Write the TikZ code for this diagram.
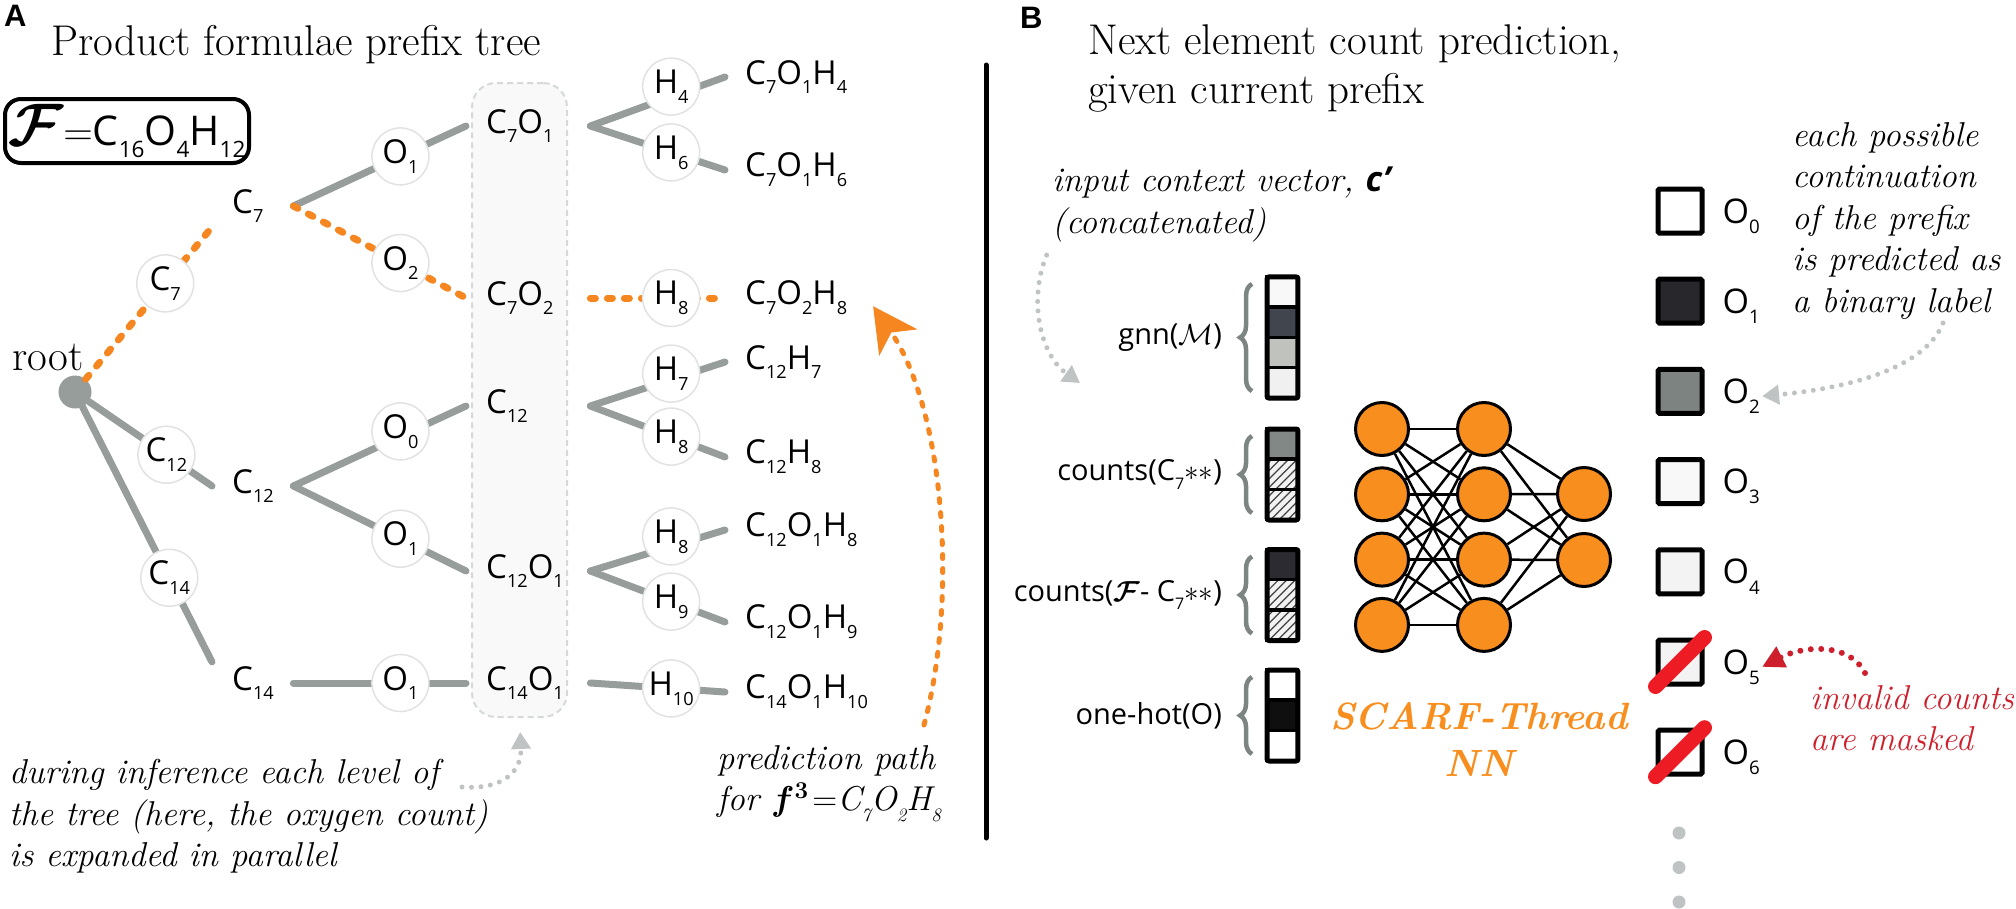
\RequirePackage{fix-cm}
\documentclass[tikz,border=0pt]{standalone}
\usepackage{bm}
\usepackage{fontspec}
\setsansfont{Open Sans}
\newfontfamily\panelfont{Liberation Sans}
\usetikzlibrary{positioning,arrows.meta,decorations.pathreplacing,patterns.meta,calc}

\definecolor{treegray}{RGB}{150,157,154}
\definecolor{pathorange}{RGB}{245,134,32}
\definecolor{ringgray}{RGB}{226,226,226}
\definecolor{boxgray}{RGB}{214,217,219}
\definecolor{boxfill}{RGB}{249,249,249}
\definecolor{hintgray}{RGB}{192,195,195}
\definecolor{bracegray}{RGB}{125,133,131}
\definecolor{nnorange}{RGB}{247,142,30}
\definecolor{maskred}{RGB}{237,28,36}
\definecolor{notered}{RGB}{205,32,44}
% vector cells
\definecolor{cellA}{RGB}{248,248,248}
\definecolor{cellB}{RGB}{65,70,78}
\definecolor{cellC}{RGB}{192,194,190}
\definecolor{cellD}{RGB}{240,240,240}
\definecolor{cellE}{RGB}{130,136,133}
\definecolor{cellF}{RGB}{45,43,50}
\definecolor{cellK}{RGB}{15,15,15}
% output squares
\definecolor{sqA}{RGB}{255,255,255}
\definecolor{sqB}{RGB}{40,40,44}
\definecolor{sqC}{RGB}{125,131,129}
\definecolor{sqD}{RGB}{248,248,248}
\definecolor{sqE}{RGB}{243,243,243}
\definecolor{sqF}{RGB}{243,243,243}
\definecolor{sqG}{RGB}{255,255,255}

\newcommand{\sbs}[1]{\raisebox{-0.3em}{\scalebox{0.55}{#1}}}

\tikzset{
  panel/.style={font=\panelfont\bfseries\fontsize{31}{31}\selectfont, inner sep=0pt},
  heading/.style={font=\rmfamily\fontsize{43}{49}\selectfont, inner sep=0pt},
  note/.style={font=\rmfamily\itshape\fontsize{34.5}{41.5}\selectfont, align=left, inner sep=0pt},
  formula/.style={font=\sffamily\fontsize{33}{38}\selectfont, inner xsep=20pt, inner ysep=4pt},
  lvlone/.style={formula, text width=41pt, align=left, anchor=west},
  lvltwo/.style={formula, text width=84pt, align=left, anchor=west},
  leaf/.style={formula, anchor=west},
  ring/.style={circle, solid, draw=ringgray, line width=1.5pt, fill=white,
               minimum size=57pt, inner sep=0pt, font=\sffamily\fontsize{33}{38}\selectfont},
  rootdot/.style={circle, fill=treegray, minimum size=33pt, inner sep=0pt},
  branch/.style={draw=treegray, line width=7pt, line cap=round},
  chosen/.style={draw=pathorange, line width=7pt, line cap=round, dash pattern=on 5pt off 12pt},
  levelbox/.style={draw=boxgray, fill=boxfill, line width=2pt, dash pattern=on 6pt off 4pt,
                   rounded corners=24pt, minimum width=95pt, minimum height=634pt},
  fambox/.style={draw, line width=4pt, rounded corners=16pt, minimum width=244pt,
                 minimum height=64pt, inner xsep=2pt, font=\sffamily\fontsize{41}{48}\selectfont},
  hint/.style={draw=hintgray, line width=5pt, line cap=round, dash pattern=on 0pt off 9.5pt,
               -{Triangle[width=19pt,length=17pt]}},
  pathhint/.style={draw=pathorange, line width=5pt, line cap=round, dash pattern=on 4pt off 10pt,
                   -{Stealth[length=44pt,width=46pt,inset=12pt]}},
  maskhint/.style={draw=notered, line width=6pt, line cap=round, dash pattern=on 0pt off 10.5pt,
                   -{Triangle[width=22pt,length=22pt]}},
  vecframe/.style={rectangle, minimum width=30.5pt, inner sep=0pt},
  vcell/.style={draw=black, line width=3.5pt},
  vecoutline/.style={draw=black, line width=5pt, rounded corners=2pt},
  cA/.style={fill=cellA}, cB/.style={fill=cellB}, cC/.style={fill=cellC}, cD/.style={fill=cellD},
  cE/.style={fill=cellE}, cF/.style={fill=cellF}, cK/.style={fill=cellK}, cW/.style={fill=white},
  hatch/.style={preaction={fill=black!5}, pattern={Lines[angle=45,distance=6pt,line width=1.2pt]},
                pattern color=black!75},
  vbrace/.style={draw=bracegray, line width=4.5pt, decorate, decoration={brace, amplitude=12pt}},
  veclabel/.style={font=\sffamily\fontsize{29}{34}\selectfont, inner sep=0pt},
  neuron/.style={circle, draw=black, line width=3pt, fill=nnorange, minimum size=53pt, inner sep=0pt},
  synapse/.style={draw=black, line width=2.5pt},
  netname/.style={font=\rmfamily\bfseries\itshape\fontsize{38}{47}\selectfont, text=nnorange,
                  align=center, inner sep=0pt},
  outbox/.style={rectangle, draw=black, line width=5pt, minimum size=44pt, inner sep=0pt,
                 rounded corners=1.5pt},
  outlabel/.style={font=\sffamily\fontsize{34}{38}\selectfont, inner sep=2pt},
  strike/.style={draw=maskred, line width=15pt, line cap=round},
  moredot/.style={circle, fill=hintgray, minimum size=13pt, inner sep=0pt},
  divider/.style={draw=black, line width=5pt, line cap=round}
}

% one input vector: name, centre y, cells, cell styles, label
\newcommand{\vecstack}[5]{%
  \node[vecframe, minimum height=#3*30.2pt] (#1) at (1282.5,#2) {};
  \foreach \st [count=\k] in {#4}
    \draw[vcell,\st] (#1.north west) ++(0,{(\k-1)*30.2}) rectangle ++(30.5,30.2);
  \draw[vecoutline] (#1.north west) rectangle (#1.south east);
  \draw[vbrace] ([xshift=-15pt,yshift=7pt]#1.south west) -- ([xshift=-15pt,yshift=-7pt]#1.north west);
  \node[veclabel, left=45pt of #1] (#1lab) {#5};
}

\begin{document}
\begin{tikzpicture}[x=1pt, y=-1pt]
\useasboundingbox (0,0) rectangle (2016,908);

% ---------------- panel A ----------------
\node[panel, anchor=north west] (labA) at (4,5) {A};
\node[heading, anchor=base west] (headA) at (51,55) {Product formulae prefix tree};
\node[fambox] (fam) at (127,131)
  {{\fontsize{60}{60}\selectfont$\bm{\mathcal{F}}$}$=$C\sbs{16}O\sbs{4}H\sbs{12}};

\node[levelbox] (lvl) at (519.5,400) {};

\node[rootdot] (root) at (75,392) {};
\node[heading, anchor=base east] (rootlbl) at (84,370) {root};

% prefixes
\node[lvlone] (c7)  at (212,206) {C\sbs{7}};
\node[lvlone] (c12) at (212,486) {C\sbs{12}};
\node[lvlone] (c14) at (212,683) {C\sbs{14}};

\node[lvltwo] (c7o1)  at (466,126) {C\sbs{7}O\sbs{1}};
\node[lvltwo] (c7o2)  at (466,298) {C\sbs{7}O\sbs{2}};
\node[lvltwo] (c12b)  at (466,406) {C\sbs{12}};
\node[lvltwo] (c12o1) at (466,571) {C\sbs{12}O\sbs{1}};
\node[lvltwo] (c14o1) at (466,683) {C\sbs{14}O\sbs{1}};

\node[leaf] (c7o1h4)   at (725,77)  {C\sbs{7}O\sbs{1}H\sbs{4}};
\node[leaf] (c7o1h6)   at (725,170) {C\sbs{7}O\sbs{1}H\sbs{6}};
\node[leaf] (c7o2h8)   at (725,298) {C\sbs{7}O\sbs{2}H\sbs{8}};
\node[leaf] (c12h7)    at (725,362) {C\sbs{12}H\sbs{7}};
\node[leaf] (c12h8)    at (725,457) {C\sbs{12}H\sbs{8}};
\node[leaf] (c12o1h8)  at (725,530) {C\sbs{12}O\sbs{1}H\sbs{8}};
\node[leaf] (c12o1h9)  at (725,622) {C\sbs{12}O\sbs{1}H\sbs{9}};
\node[leaf] (c14o1h10) at (725,692) {C\sbs{14}O\sbs{1}H\sbs{10}};

% carbon level
\draw[chosen] (root) -- node[ring, pos=0.63] (r7) {C\sbs{7}} (c7.south west);
\draw[branch] (root) -- node[ring, pos=0.63] (r12) {C\sbs{12}} (c12.west);
\draw[branch] (root) -- node[ring, pos=0.67] (r14) {C\sbs{14}} (c14.north west);

% oxygen level
\draw[branch] (c7.east) -- node[ring, pos=0.62] (o7a) {O\sbs{1}} (c7o1.west);
\draw[chosen] (c7.east) -- node[ring, pos=0.62] (o7b) {O\sbs{2}} (c7o2.west);
\draw[branch] (c12.east) -- node[ring, pos=0.62, yshift=5pt] (o12a) {O\sbs{0}} (c12b.west);
\draw[branch] (c12.east) -- node[ring, pos=0.62] (o12b) {O\sbs{1}} (c12o1.west);
\draw[branch] (c14.east) -- node[ring, pos=0.62] (o14) {O\sbs{1}} (c14o1.west);

% hydrogen level
\draw[branch] (c7o1.east) -- node[ring, pos=0.6, yshift=10pt] (h4) {H\sbs{4}} (c7o1h4.west);
\draw[branch] (c7o1.east) -- node[ring, pos=0.6] (h6) {H\sbs{6}} (c7o1h6.west);
\draw[chosen] (c7o2.east) -- node[ring, pos=0.6] (h8a) {H\sbs{8}} (c7o2h8.west);
\draw[branch] (c12b.east) -- node[ring, pos=0.6, yshift=6pt] (h7) {H\sbs{7}} (c12h7.west);
\draw[branch] (c12b.east) -- node[ring, pos=0.6] (h8b) {H\sbs{8}} (c12h8.west);
\draw[branch] (c12o1.east) -- node[ring, pos=0.6, yshift=10pt] (h8c) {H\sbs{8}} (c12o1h8.west);
\draw[branch] (c12o1.east) -- node[ring, pos=0.6] (h9) {H\sbs{9}} (c12o1h9.west);
\draw[branch] (c14o1.east) -- node[ring, pos=0.6] (h10) {H\sbs{10}} (c14o1h10.west);

% notes
\node[note, anchor=north west] (infer) at (9,759)
  {during inference each level of\\the tree (here, the oxygen count)\\is expanded in parallel};
\coordinate (infertail) at (462,787);
\draw[hint, shorten >=14pt] (infertail) .. controls (505,790) and (522,770) .. (lvl.south);

\node[note, anchor=north west] (predpath) at (717,745)
  {prediction path\\for $\bm{f}^{\bm{3}}\!=$\textit{C\sbs{7}O\sbs{2}H\sbs{8}}};
\coordinate (predtail) at (924,725);
\draw[pathhint, shorten >=10pt] (predtail) .. controls (958,600) and (945,410) .. (c7o2h8.east);

\draw[divider] (986,65) -- (986,838);

% ---------------- panel B ----------------
\node[panel, anchor=north west] (labB) at (1020,7) {B};
\node[heading, anchor=north west, align=left] (headB) at (1088,24)
  {Next element count prediction,\\given current prefix};

\node[note, anchor=north west] (ctxnote) at (1052,167)
  {input context vector, \textsf{\bfseries\itshape c'}\\(concatenated)};
\coordinate (ctxtip) at (1080,383);
\draw[hint, shorten <=14pt] (ctxnote.south west) .. controls (1028,300) and (1040,355) .. (ctxtip);

\vecstack{vgnn}{337.5}{4}{cA,cB,cC,cD}{gnn($\mathcal{M}$)}
\vecstack{vpre}{474.5}{3}{cE,hatch,hatch}{counts(C\sbs{7}$\ast\ast$)}
\vecstack{vrem}{595}{3}{cF,hatch,hatch}{counts($\bm{\mathcal{F}}$- C\sbs{7}$\ast\ast$)}
\vecstack{vhot}{715.5}{3}{cW,cK,cW}{one-hot(O)}

% network
\foreach \i in {1,...,4} \node[neuron] (in\i) at (1382,{429+65.3*(\i-1)}) {};
\foreach \i in {1,...,4} \node[neuron] (hid\i) at (1484,{429+65.3*(\i-1)}) {};
\foreach \i in {1,2} \node[neuron] (out\i) at (1584,{494+66*(\i-1)}) {};
\foreach \i in {1,...,4} \foreach \j in {1,...,4} \draw[synapse] (in\i) -- (hid\j);
\foreach \i in {1,...,4} \foreach \j in {1,2} \draw[synapse] (hid\i) -- (out\j);
\node[netname, anchor=north] (netlbl) at (1479,702) {SCARF-Thread\\NN};

% outputs
\foreach \fillc [count=\k from 0] in {sqA,sqB,sqC,sqD,sqE,sqF,sqG} {
  \node[outbox, fill=\fillc] (sq\k) at (1680,{211+90.2*\k}) {};
  \node[outlabel, anchor=base west] (olab\k) at ([xshift=16pt,yshift=-12pt]sq\k.east) {O\sbs{\k}};
}
\draw[strike] (sq5.south west) -- (sq5.north east);
\draw[strike] (sq6.south west) -- (sq6.north east);
\foreach \k in {0,1,2} \node[moredot] (dot\k) at (1679,{833+34.5*\k}) {};

\node[note, anchor=north west] (contnote) at (1792,122)
  {each possible\\continuation\\of the prefix\\is predicted as\\a binary label};
\coordinate (conttail) at (1943,323);
\draw[hint] (conttail) .. controls (1925,368) and (1850,388) .. (olab2.east);

\node[note, text=notered, anchor=north west] (masknote) at (1810,685)
  {invalid counts\\are masked};
\coordinate (masktail) at (1865,673);
\draw[maskhint] (masktail) .. controls (1850,643) and (1805,645) .. (olab5.east);
\end{tikzpicture}
\end{document}
